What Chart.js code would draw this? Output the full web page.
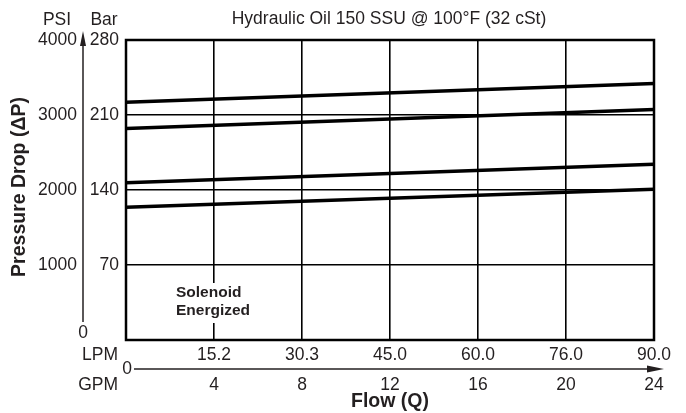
<!DOCTYPE html>
<html>
<head>
<meta charset="utf-8">
<script src="https://cdn.jsdelivr.net/npm/chart.js@4/dist/chart.umd.min.js"></script>
<style>
  html, body { margin: 0; padding: 0; background: #fff; }
  #wrap { width: 686px; height: 413px; }
</style>
</head>
<body>
<div id="wrap"><canvas id="c" width="686" height="413"></canvas></div>
<script>
// ---- data ----
const gpm = [0, 24];
const curveA = [3170, 3420];
const curveB = [2820, 3075];
const curveC = [2095, 2345];
const curveD = [1770, 2010];

const psiTicks = [0, 1000, 2000, 3000, 4000];
const barTicks = ['', '70', '140', '210', '280'];
const gpmTicks = [4, 8, 12, 16, 20, 24];
const lpmTicks = ['15.2', '30.3', '45.0', '60.0', '76.0', '90.0'];

const subtitle = 'Hydraulic Oil 150 SSU @ 100°F (32 cSt)';
const yTitle = 'Pressure Drop (ΔP)';
const xTitle = 'Flow (Q)';
const note = ['Solenoid', 'Energized'];

const TXT = '#231f20';
const FONT = '"Liberation Sans", Arial, Helvetica, sans-serif';

function series(vals) {
  return gpm.map((g, i) => ({ x: g, y: vals[i] }));
}

const decor = {
  id: 'decor',
  afterDraw(chart) {
    const ctx = chart.ctx;
    const xs = chart.scales.x, ys = chart.scales.y;
    const ca = chart.chartArea;
    ctx.save();
    // frame
    ctx.strokeStyle = '#000';
    ctx.lineWidth = 2.5;
    ctx.strokeRect(ca.left, ca.top, ca.right - ca.left, ca.bottom - ca.top);

    ctx.fillStyle = TXT;
    ctx.font = '17.5px ' + FONT;
    ctx.textBaseline = 'middle';

    // left axis labels
    ctx.fillText; 
    ctx.textAlign = 'center';
    ctx.fillText('PSI', 57, 20);
    ctx.fillText('Bar', 104, 20);
    ctx.textAlign = 'right';
    psiTicks.forEach((v, i) => {
      const y = ys.getPixelForValue(v);
      if (v === 0) {
        ctx.textAlign = 'center';
        ctx.fillText('0', 83, y - 7);
        ctx.textAlign = 'right';
      } else {
        ctx.fillText(String(v), 77, y);
      }
      if (barTicks[i]) ctx.fillText(barTicks[i], 119, y);
    });

    // vertical arrow
    ctx.strokeStyle = TXT;
    ctx.lineWidth = 1.5;
    ctx.beginPath();
    ctx.moveTo(83, ys.getPixelForValue(0) - 18);
    ctx.lineTo(83, 44);
    ctx.stroke();
    ctx.beginPath();
    ctx.moveTo(83, 31);
    ctx.lineTo(86, 46);
    ctx.lineTo(80, 46);
    ctx.closePath();
    ctx.fill();

    // y title
    ctx.save();
    ctx.translate(20, 187);
    ctx.rotate(-Math.PI / 2);
    ctx.textAlign = 'center';
    ctx.font = 'bold 19.5px ' + FONT;
    ctx.fillText(yTitle, 0, 0);
    ctx.restore();

    // bottom axis labels
    const rowLPM = 355, rowAxis = 369, rowGPM = 385;
    ctx.textAlign = 'center';
    gpmTicks.forEach((g, i) => {
      const x = xs.getPixelForValue(g);
      ctx.fillText(lpmTicks[i], x, rowLPM);
      ctx.fillText(String(g), x, rowGPM);
    });
    ctx.textAlign = 'right';
    ctx.fillText('LPM', 118, rowLPM);
    ctx.fillText('GPM', 118, rowGPM);
    ctx.textAlign = 'center';
    ctx.fillText('0', xs.getPixelForValue(0) + 1, rowAxis);

    // horizontal arrow
    ctx.beginPath();
    ctx.moveTo(134, rowAxis);
    ctx.lineTo(650, rowAxis);
    ctx.stroke();
    ctx.beginPath();
    ctx.moveTo(664, rowAxis);
    ctx.lineTo(647, rowAxis - 3.5);
    ctx.lineTo(647, rowAxis + 3.5);
    ctx.closePath();
    ctx.fill();

    ctx.font = 'bold 19.5px ' + FONT;
    ctx.fillText(xTitle, 390, 402);

    // subtitle
    ctx.font = '17.5px ' + FONT;
    ctx.fillText(subtitle, 389, 19);

    // note with white background
    ctx.fillStyle = '#fff';
    ctx.fillRect(172, 283, 82, 40);
    ctx.fillStyle = TXT;
    ctx.textAlign = 'left';
    ctx.font = 'bold 15.5px ' + FONT;
    ctx.fillText(note[0], 176, 293);
    ctx.fillText(note[1], 176, 311);
    ctx.restore();
  }
};

new Chart(document.getElementById('c'), {
  type: 'line',
  data: {
    datasets: [curveA, curveB, curveC, curveD].map(v => ({
      data: series(v),
      borderColor: '#000',
      borderWidth: 3.5,
      pointRadius: 0,
      tension: 0,
      fill: false
    }))
  },
  options: {
    responsive: false,
    animation: false,
    devicePixelRatio: 1,
    layout: { padding: { left: 126, top: 40, right: 32, bottom: 73 } },
    plugins: { legend: { display: false }, tooltip: { enabled: false } },
    scales: {
      x: {
        type: 'linear', min: 0, max: 24,
        ticks: { display: false, stepSize: 4 },
        grid: { color: '#000', lineWidth: 1.6, drawTicks: false },
        border: { display: false }
      },
      y: {
        type: 'linear', min: 0, max: 4000,
        ticks: { display: false, stepSize: 1000 },
        grid: { color: '#000', lineWidth: 1.6, drawTicks: false },
        border: { display: false }
      }
    }
  },
  plugins: [decor]
});
</script>
</body>
</html>
